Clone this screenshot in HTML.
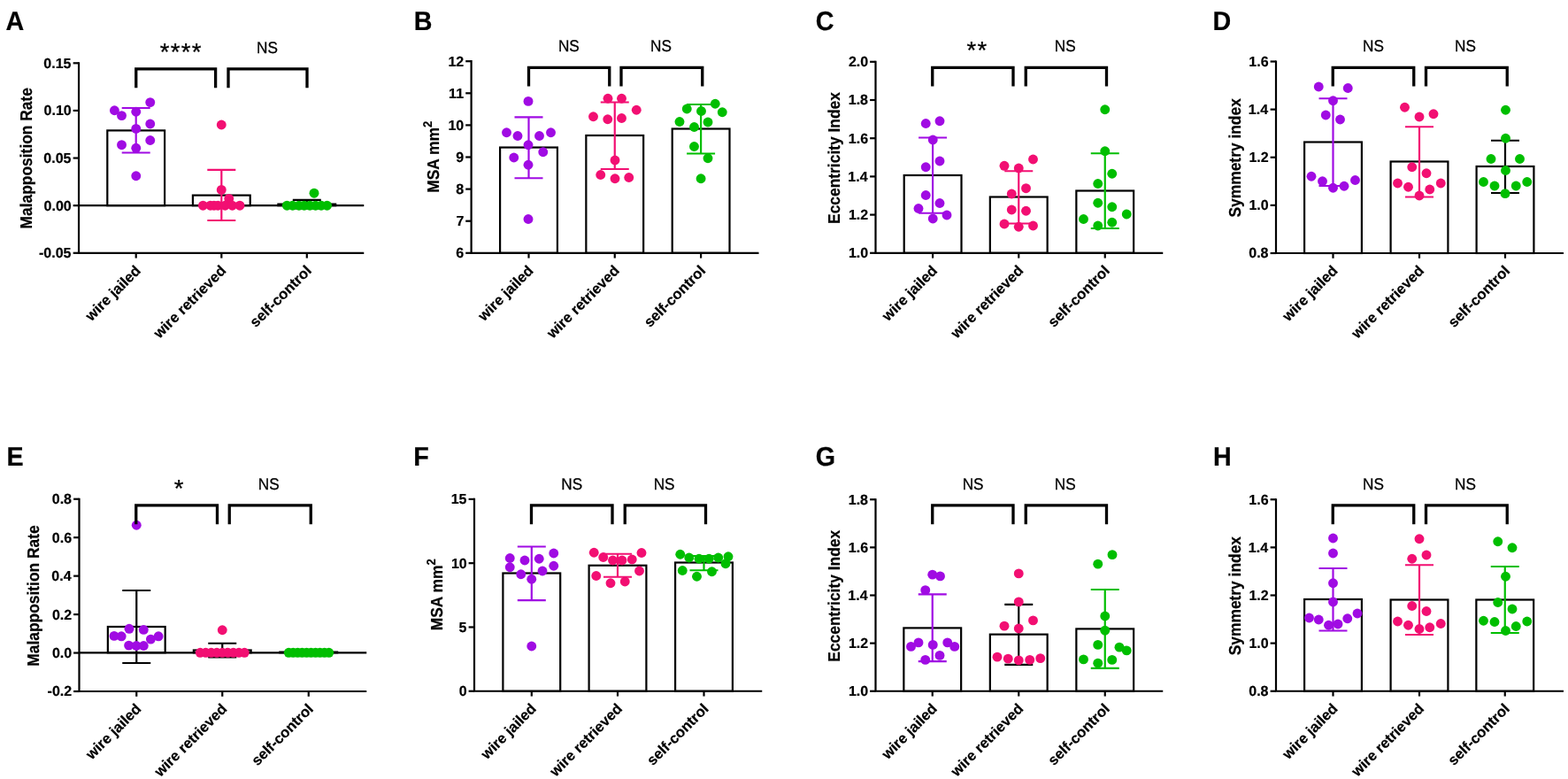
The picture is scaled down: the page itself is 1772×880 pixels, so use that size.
<!DOCTYPE html>
<html><head><meta charset="utf-8"><title>Figure</title>
<style>
html,body{margin:0;padding:0;background:#fff;}
body{width:1772px;height:880px;overflow:hidden;}
svg{display:block;}
text{text-rendering:geometricPrecision;}
.b{font-family:'Liberation Sans', Arial, Helvetica, sans-serif;font-weight:700;fill:#000;stroke:#000;stroke-width:0.2px;}
.r{font-family:'Liberation Sans', Arial, Helvetica, sans-serif;font-weight:400;fill:#000;stroke:#000;stroke-width:0.3px;}
</style></head><body>
<svg width="1772" height="880" viewBox="0 0 1772 880">
<rect width="1772" height="880" fill="#fff"/>
<rect x="121.3" y="147.4" width="64.8" height="84.8" fill="#fff" stroke="#000" stroke-width="2.2"/>
<rect x="217.9" y="220.6" width="64.8" height="11.6" fill="#fff" stroke="#000" stroke-width="2.2"/>
<rect x="314.4" y="230.6" width="64.8" height="1.6" fill="#fff" stroke="#000" stroke-width="2.2"/>
<line x1="89.05" y1="232.2" x2="411.25" y2="232.2" stroke="#000" stroke-width="2.2"/>
<path d="M137.7 122H169.7M153.7 122V172.5M137.7 172.5H169.7" stroke="#A00BE3" stroke-width="2.2" fill="none"/>
<path d="M234.3 191.9H266.3M250.3 191.9V249M234.3 249H266.3" stroke="#F20F72" stroke-width="2.2" fill="none"/>
<path d="M330.8 225.8H362.8M346.8 225.8V235.4M330.8 235.4H362.8" stroke="#000000" stroke-width="2.2" fill="none"/>
<g fill="#A00BE3"><circle cx="129.4" cy="124.75" r="5.45"/><circle cx="137.5" cy="130.6" r="5.45"/><circle cx="153.75" cy="126.25" r="5.45"/><circle cx="169.75" cy="115.6" r="5.45"/><circle cx="169.75" cy="140" r="5.45"/><circle cx="153.75" cy="145.4" r="5.45"/><circle cx="137.5" cy="163.7" r="5.45"/><circle cx="169.75" cy="158.5" r="5.45"/><circle cx="153.75" cy="167.3" r="5.45"/><circle cx="153.75" cy="198.75" r="5.45"/></g>
<g fill="#F20F72"><circle cx="250.25" cy="141" r="5.45"/><circle cx="250.25" cy="214.4" r="5.45"/><circle cx="258.75" cy="224.4" r="5.45"/><circle cx="229.4" cy="232.2" r="5.45"/><circle cx="237.75" cy="232.2" r="5.45"/><circle cx="241.9" cy="232.2" r="5.45"/><circle cx="246.25" cy="232.2" r="5.45"/><circle cx="254.4" cy="232.2" r="5.45"/><circle cx="262.5" cy="232.2" r="5.45"/><circle cx="271" cy="232.2" r="5.45"/></g>
<g fill="#00BE00"><circle cx="355" cy="218.2" r="5.45"/><circle cx="324.3" cy="232.2" r="5.45"/><circle cx="330.7" cy="232.2" r="5.45"/><circle cx="337.9" cy="232.2" r="5.45"/><circle cx="343.8" cy="232.2" r="5.45"/><circle cx="350.2" cy="232.2" r="5.45"/><circle cx="356.6" cy="232.2" r="5.45"/><circle cx="363" cy="232.2" r="5.45"/><circle cx="369.6" cy="232.2" r="5.45"/></g>
<path d="M89.05 70.2V285.8H411.25" stroke="#000" stroke-width="2.2" fill="none" stroke-linejoin="miter"/>
<line x1="82.65" y1="71.3" x2="89.05" y2="71.3" stroke="#000" stroke-width="2.2"/>
<text x="49.33" y="76.72" class="b" font-size="16.0">0.15</text>
<line x1="82.65" y1="124.92" x2="89.05" y2="124.92" stroke="#000" stroke-width="2.2"/>
<text x="49.57" y="130.34" class="b" font-size="16.0">0.10</text>
<line x1="82.65" y1="178.55" x2="89.05" y2="178.55" stroke="#000" stroke-width="2.2"/>
<text x="49.33" y="183.97" class="b" font-size="16.0">0.05</text>
<line x1="82.65" y1="232.18" x2="89.05" y2="232.18" stroke="#000" stroke-width="2.2"/>
<text x="49.57" y="237.6" class="b" font-size="16.0">0.00</text>
<line x1="82.65" y1="285.8" x2="89.05" y2="285.8" stroke="#000" stroke-width="2.2"/>
<text x="43.97" y="291.22" class="b" font-size="16.0">-0.05</text>
<line x1="153.7" y1="285.8" x2="153.7" y2="291.6" stroke="#000" stroke-width="2.2"/>
<text transform="translate(159.9 306.7) rotate(-45)" text-anchor="end" class="b" font-size="16.6">wire jailed</text>
<line x1="250.3" y1="285.8" x2="250.3" y2="291.6" stroke="#000" stroke-width="2.2"/>
<text transform="translate(256.5 306.7) rotate(-45)" text-anchor="end" class="b" font-size="16.6">wire retrieved</text>
<line x1="346.8" y1="285.8" x2="346.8" y2="291.6" stroke="#000" stroke-width="2.2"/>
<text transform="translate(353 306.7) rotate(-45)" text-anchor="end" class="b" font-size="16.6">self-control</text>
<path d="M153.75 99.3V77.9H243.6V99.3" stroke="#000" stroke-width="3.3" fill="none"/>
<path d="M258 99.3V77.9H347V99.3" stroke="#000" stroke-width="3.3" fill="none"/>
<text x="180.77" y="67.66" class="r" font-size="27.5" letter-spacing="1.3">****</text>
<text transform="translate(302.25 59.7) scale(0.94 1)" x="-12.99" y="0" class="r" font-size="18.3">NS</text>
<text transform="translate(6.48 34.4) scale(0.95 1)" x="0" y="0" class="b" font-size="30.2">A</text>
<text transform="translate(35.8 0) rotate(-90) scale(1 1.08)" x="-258.43" y="0" class="b" font-size="17.4">Malapposition Rate</text>
<rect x="565.1" y="166.55" width="64.8" height="119.25" fill="#fff" stroke="#000" stroke-width="2.2"/>
<rect x="662.35" y="153" width="64.8" height="132.8" fill="#fff" stroke="#000" stroke-width="2.2"/>
<rect x="759.7" y="145.5" width="64.8" height="140.3" fill="#fff" stroke="#000" stroke-width="2.2"/>
<path d="M581.5 132.4H613.5M597.5 132.4V201.25M581.5 201.25H613.5" stroke="#A00BE3" stroke-width="2.2" fill="none"/>
<path d="M678.75 115.5H710.75M694.75 115.5V191M678.75 191H710.75" stroke="#F20F72" stroke-width="2.2" fill="none"/>
<path d="M776.1 118H808.1M792.1 118V173.5M776.1 173.5H808.1" stroke="#00BE00" stroke-width="2.2" fill="none"/>
<g fill="#A00BE3"><circle cx="597" cy="114.4" r="5.45"/><circle cx="572.5" cy="149.75" r="5.45"/><circle cx="585" cy="153.5" r="5.45"/><circle cx="609.5" cy="153.5" r="5.45"/><circle cx="622.5" cy="149.75" r="5.45"/><circle cx="597" cy="163.75" r="5.45"/><circle cx="613.75" cy="171.75" r="5.45"/><circle cx="580.75" cy="178" r="5.45"/><circle cx="597" cy="186.25" r="5.45"/><circle cx="597" cy="247.5" r="5.45"/></g>
<g fill="#F20F72"><circle cx="687" cy="111.25" r="5.45"/><circle cx="702.5" cy="111.25" r="5.45"/><circle cx="719.25" cy="124.25" r="5.45"/><circle cx="670.5" cy="131.75" r="5.45"/><circle cx="686.75" cy="134.75" r="5.45"/><circle cx="702.5" cy="133.5" r="5.45"/><circle cx="695" cy="181" r="5.45"/><circle cx="678.75" cy="197.5" r="5.45"/><circle cx="695" cy="201.75" r="5.45"/><circle cx="710.75" cy="200.5" r="5.45"/></g>
<g fill="#00BE00"><circle cx="808.25" cy="117.25" r="5.45"/><circle cx="776.25" cy="123" r="5.45"/><circle cx="792.5" cy="125.5" r="5.45"/><circle cx="816.25" cy="126.75" r="5.45"/><circle cx="768" cy="137.5" r="5.45"/><circle cx="800" cy="138" r="5.45"/><circle cx="784.5" cy="143.5" r="5.45"/><circle cx="784.5" cy="165.5" r="5.45"/><circle cx="800" cy="178.75" r="5.45"/><circle cx="792.1" cy="201.75" r="5.45"/></g>
<path d="M532.6 68.1V285.8H857.5" stroke="#000" stroke-width="2.2" fill="none" stroke-linejoin="miter"/>
<line x1="526.2" y1="69.2" x2="532.6" y2="69.2" stroke="#000" stroke-width="2.2"/>
<text x="506.48" y="74.7" class="b" font-size="16.0">12</text>
<line x1="526.2" y1="105.3" x2="532.6" y2="105.3" stroke="#000" stroke-width="2.2"/>
<text x="507.12" y="110.72" class="b" font-size="16.0">11</text>
<line x1="526.2" y1="141.4" x2="532.6" y2="141.4" stroke="#000" stroke-width="2.2"/>
<text x="506.48" y="146.82" class="b" font-size="16.0">10</text>
<line x1="526.2" y1="177.5" x2="532.6" y2="177.5" stroke="#000" stroke-width="2.2"/>
<text x="515.28" y="182.92" class="b" font-size="16.0">9</text>
<line x1="526.2" y1="213.6" x2="532.6" y2="213.6" stroke="#000" stroke-width="2.2"/>
<text x="515.2" y="219.02" class="b" font-size="16.0">8</text>
<line x1="526.2" y1="249.7" x2="532.6" y2="249.7" stroke="#000" stroke-width="2.2"/>
<text x="515.44" y="255.12" class="b" font-size="16.0">7</text>
<line x1="526.2" y1="285.8" x2="532.6" y2="285.8" stroke="#000" stroke-width="2.2"/>
<text x="515.28" y="291.22" class="b" font-size="16.0">6</text>
<line x1="597.5" y1="285.8" x2="597.5" y2="291.6" stroke="#000" stroke-width="2.2"/>
<text transform="translate(603.7 306.7) rotate(-45)" text-anchor="end" class="b" font-size="16.6">wire jailed</text>
<line x1="694.75" y1="285.8" x2="694.75" y2="291.6" stroke="#000" stroke-width="2.2"/>
<text transform="translate(700.95 306.7) rotate(-45)" text-anchor="end" class="b" font-size="16.6">wire retrieved</text>
<line x1="792.1" y1="285.8" x2="792.1" y2="291.6" stroke="#000" stroke-width="2.2"/>
<text transform="translate(798.3 306.7) rotate(-45)" text-anchor="end" class="b" font-size="16.6">self-control</text>
<path d="M597.5 97.6V76.4H688.75V97.6" stroke="#000" stroke-width="3.3" fill="none"/>
<path d="M702 97.6V76.4H793.75V97.6" stroke="#000" stroke-width="3.3" fill="none"/>
<text transform="translate(643.1 57.6) scale(0.94 1)" x="-12.99" y="0" class="r" font-size="18.3">NS</text>
<text transform="translate(747.3 57.6) scale(0.94 1)" x="-12.99" y="0" class="r" font-size="18.3">NS</text>
<text transform="translate(467.64 34.4) scale(0.95 1)" x="0" y="0" class="b" font-size="30.2">B</text>
<text transform="translate(496 0) rotate(-90) scale(1 1.08)" x="-217.83" y="0" class="b" font-size="17.4">MSA mm<tspan font-size="13" dy="-7.6">2</tspan></text>
<rect x="1021.7" y="198" width="64.8" height="87.8" fill="#fff" stroke="#000" stroke-width="2.2"/>
<rect x="1118.85" y="222.5" width="64.8" height="63.3" fill="#fff" stroke="#000" stroke-width="2.2"/>
<rect x="1216.35" y="215.5" width="64.8" height="70.3" fill="#fff" stroke="#000" stroke-width="2.2"/>
<path d="M1038.1 155.5H1070.1M1054.1 155.5V240.75M1038.1 240.75H1070.1" stroke="#A00BE3" stroke-width="2.2" fill="none"/>
<path d="M1135.25 193.25H1167.25M1151.25 193.25V252.5M1135.25 252.5H1167.25" stroke="#F20F72" stroke-width="2.2" fill="none"/>
<path d="M1232.75 173.25H1264.75M1248.75 173.25V258M1232.75 258H1264.75" stroke="#00BE00" stroke-width="2.2" fill="none"/>
<g fill="#A00BE3"><circle cx="1046.25" cy="139.5" r="5.45"/><circle cx="1062" cy="136.75" r="5.45"/><circle cx="1054.25" cy="158" r="5.45"/><circle cx="1062" cy="182" r="5.45"/><circle cx="1046.25" cy="188.75" r="5.45"/><circle cx="1046.25" cy="220.5" r="5.45"/><circle cx="1062" cy="229.5" r="5.45"/><circle cx="1038" cy="235.5" r="5.45"/><circle cx="1070" cy="243" r="5.45"/><circle cx="1054.25" cy="247" r="5.45"/></g>
<g fill="#F20F72"><circle cx="1135" cy="187.3" r="5.45"/><circle cx="1151.25" cy="190" r="5.45"/><circle cx="1167.5" cy="180" r="5.45"/><circle cx="1159.5" cy="212.7" r="5.45"/><circle cx="1143.25" cy="219" r="5.45"/><circle cx="1143.25" cy="237" r="5.45"/><circle cx="1159.5" cy="238.25" r="5.45"/><circle cx="1135" cy="253" r="5.45"/><circle cx="1151.25" cy="256.25" r="5.45"/><circle cx="1167.5" cy="255" r="5.45"/></g>
<g fill="#00BE00"><circle cx="1248.75" cy="123.75" r="5.45"/><circle cx="1248.75" cy="170.75" r="5.45"/><circle cx="1256.75" cy="196.25" r="5.45"/><circle cx="1240.75" cy="207.5" r="5.45"/><circle cx="1240.75" cy="229.25" r="5.45"/><circle cx="1256.75" cy="233.75" r="5.45"/><circle cx="1273.25" cy="242" r="5.45"/><circle cx="1224.5" cy="247.5" r="5.45"/><circle cx="1256.75" cy="251.25" r="5.45"/><circle cx="1240.75" cy="255" r="5.45"/></g>
<path d="M989.5 68.7V285.8H1314.25" stroke="#000" stroke-width="2.2" fill="none" stroke-linejoin="miter"/>
<line x1="983.1" y1="69.8" x2="989.5" y2="69.8" stroke="#000" stroke-width="2.2"/>
<text x="958.9" y="75.22" class="b" font-size="16.0">2.0</text>
<line x1="983.1" y1="113" x2="989.5" y2="113" stroke="#000" stroke-width="2.2"/>
<text x="958.74" y="118.42" class="b" font-size="16.0">1.8</text>
<line x1="983.1" y1="156.2" x2="989.5" y2="156.2" stroke="#000" stroke-width="2.2"/>
<text x="958.82" y="161.62" class="b" font-size="16.0">1.6</text>
<line x1="983.1" y1="199.4" x2="989.5" y2="199.4" stroke="#000" stroke-width="2.2"/>
<text x="958.34" y="204.82" class="b" font-size="16.0">1.4</text>
<line x1="983.1" y1="242.6" x2="989.5" y2="242.6" stroke="#000" stroke-width="2.2"/>
<text x="958.9" y="248.1" class="b" font-size="16.0">1.2</text>
<line x1="983.1" y1="285.8" x2="989.5" y2="285.8" stroke="#000" stroke-width="2.2"/>
<text x="958.9" y="291.22" class="b" font-size="16.0">1.0</text>
<line x1="1054.1" y1="285.8" x2="1054.1" y2="291.6" stroke="#000" stroke-width="2.2"/>
<text transform="translate(1060.3 306.7) rotate(-45)" text-anchor="end" class="b" font-size="16.6">wire jailed</text>
<line x1="1151.25" y1="285.8" x2="1151.25" y2="291.6" stroke="#000" stroke-width="2.2"/>
<text transform="translate(1157.45 306.7) rotate(-45)" text-anchor="end" class="b" font-size="16.6">wire retrieved</text>
<line x1="1248.75" y1="285.8" x2="1248.75" y2="291.6" stroke="#000" stroke-width="2.2"/>
<text transform="translate(1254.95 306.7) rotate(-45)" text-anchor="end" class="b" font-size="16.6">self-control</text>
<path d="M1053.75 97.6V76.3H1145V97.6" stroke="#000" stroke-width="3.3" fill="none"/>
<path d="M1159.25 97.6V76.3H1250.5V97.6" stroke="#000" stroke-width="3.3" fill="none"/>
<text x="1092.42" y="65.96" class="r" font-size="27.5" letter-spacing="1.3">**</text>
<text transform="translate(1204 57.6) scale(0.94 1)" x="-12.99" y="0" class="r" font-size="18.3">NS</text>
<text transform="translate(921.65 34.4) scale(0.95 1)" x="0" y="0" class="b" font-size="30.2">C</text>
<text transform="translate(948.7 0) rotate(-90) scale(1 1.08)" x="-252.93" y="0" class="b" font-size="17.4">Eccentricity Index</text>
<rect x="1474.1" y="160.5" width="64.8" height="125.5" fill="#fff" stroke="#000" stroke-width="2.2"/>
<rect x="1571.6" y="182.5" width="64.8" height="103.5" fill="#fff" stroke="#000" stroke-width="2.2"/>
<rect x="1668.6" y="188" width="64.8" height="98" fill="#fff" stroke="#000" stroke-width="2.2"/>
<path d="M1490.5 111.25H1522.5M1506.5 111.25V210M1490.5 210H1522.5" stroke="#A00BE3" stroke-width="2.2" fill="none"/>
<path d="M1588 143.25H1620M1604 143.25V222.5M1588 222.5H1620" stroke="#F20F72" stroke-width="2.2" fill="none"/>
<path d="M1685 158.75H1717M1701 158.75V218M1685 218H1717" stroke="#000000" stroke-width="2.2" fill="none"/>
<g fill="#A00BE3"><circle cx="1490.25" cy="98" r="5.45"/><circle cx="1523.25" cy="99.5" r="5.45"/><circle cx="1506.5" cy="113.75" r="5.45"/><circle cx="1498.25" cy="130" r="5.45"/><circle cx="1514.5" cy="135" r="5.45"/><circle cx="1482" cy="199.25" r="5.45"/><circle cx="1494.5" cy="204.75" r="5.45"/><circle cx="1531.5" cy="203.5" r="5.45"/><circle cx="1506.5" cy="212.25" r="5.45"/><circle cx="1519" cy="210.25" r="5.45"/></g>
<g fill="#F20F72"><circle cx="1587.5" cy="121.25" r="5.45"/><circle cx="1604" cy="132" r="5.45"/><circle cx="1620" cy="128.75" r="5.45"/><circle cx="1595.75" cy="188.75" r="5.45"/><circle cx="1612" cy="195.75" r="5.45"/><circle cx="1579.5" cy="207" r="5.45"/><circle cx="1591.5" cy="211.25" r="5.45"/><circle cx="1628.25" cy="207" r="5.45"/><circle cx="1615.75" cy="214" r="5.45"/><circle cx="1604" cy="221" r="5.45"/></g>
<g fill="#00BE00"><circle cx="1701.5" cy="124.25" r="5.45"/><circle cx="1701.5" cy="156.25" r="5.45"/><circle cx="1685" cy="179.5" r="5.45"/><circle cx="1717.5" cy="179.5" r="5.45"/><circle cx="1701.5" cy="192.5" r="5.45"/><circle cx="1676.5" cy="205.5" r="5.45"/><circle cx="1725.75" cy="205.5" r="5.45"/><circle cx="1689" cy="210" r="5.45"/><circle cx="1713.25" cy="210" r="5.45"/><circle cx="1701" cy="218.6" r="5.45"/></g>
<path d="M1442 68.4V286H1767" stroke="#000" stroke-width="2.2" fill="none" stroke-linejoin="miter"/>
<line x1="1435.6" y1="69.5" x2="1442" y2="69.5" stroke="#000" stroke-width="2.2"/>
<text x="1411.32" y="74.92" class="b" font-size="16.0">1.6</text>
<line x1="1435.6" y1="123.62" x2="1442" y2="123.62" stroke="#000" stroke-width="2.2"/>
<text x="1410.84" y="129.05" class="b" font-size="16.0">1.4</text>
<line x1="1435.6" y1="177.75" x2="1442" y2="177.75" stroke="#000" stroke-width="2.2"/>
<text x="1411.4" y="183.25" class="b" font-size="16.0">1.2</text>
<line x1="1435.6" y1="231.88" x2="1442" y2="231.88" stroke="#000" stroke-width="2.2"/>
<text x="1411.4" y="237.3" class="b" font-size="16.0">1.0</text>
<line x1="1435.6" y1="286" x2="1442" y2="286" stroke="#000" stroke-width="2.2"/>
<text x="1411.24" y="291.42" class="b" font-size="16.0">0.8</text>
<line x1="1506.5" y1="286" x2="1506.5" y2="291.8" stroke="#000" stroke-width="2.2"/>
<text transform="translate(1512.7 306.9) rotate(-45)" text-anchor="end" class="b" font-size="16.6">wire jailed</text>
<line x1="1604" y1="286" x2="1604" y2="291.8" stroke="#000" stroke-width="2.2"/>
<text transform="translate(1610.2 306.9) rotate(-45)" text-anchor="end" class="b" font-size="16.6">wire retrieved</text>
<line x1="1701" y1="286" x2="1701" y2="291.8" stroke="#000" stroke-width="2.2"/>
<text transform="translate(1707.2 306.9) rotate(-45)" text-anchor="end" class="b" font-size="16.6">self-control</text>
<path d="M1506.25 97.6V76.3H1597.75V97.6" stroke="#000" stroke-width="3.3" fill="none"/>
<path d="M1611.5 97.6V76.3H1703.25V97.6" stroke="#000" stroke-width="3.3" fill="none"/>
<text transform="translate(1552.3 57.6) scale(0.94 1)" x="-12.99" y="0" class="r" font-size="18.3">NS</text>
<text transform="translate(1656.3 57.6) scale(0.94 1)" x="-12.99" y="0" class="r" font-size="18.3">NS</text>
<text transform="translate(1370.44 34.4) scale(0.95 1)" x="0" y="0" class="b" font-size="30.2">D</text>
<text transform="translate(1401.8 0) rotate(-90) scale(1 1.08)" x="-245.52" y="0" class="b" font-size="17.4">Symmetry index</text>
<rect x="121.85" y="708" width="64.8" height="29.3" fill="#fff" stroke="#000" stroke-width="2.2"/>
<rect x="218.85" y="734.5" width="64.8" height="2.8" fill="#fff" stroke="#000" stroke-width="2.2"/>
<rect x="316.35" y="736.6" width="64.8" height="0.7" fill="#fff" stroke="#000" stroke-width="2.2"/>
<line x1="89.5" y1="737.3" x2="414.25" y2="737.3" stroke="#000" stroke-width="2.2"/>
<path d="M138.25 667H170.25M154.25 667V749M138.25 749H170.25" stroke="#000000" stroke-width="2.2" fill="none"/>
<path d="M235.25 726.75H267.25M251.25 726.75V742.5M235.25 742.5H267.25" stroke="#000000" stroke-width="2.2" fill="none"/>
<path d="M332.75 737.3H364.75M348.75 737.3V737.3M332.75 737.3H364.75" stroke="#000000" stroke-width="2.2" fill="none"/>
<g fill="#A00BE3"><circle cx="154.25" cy="593.25" r="5.45"/><circle cx="129" cy="718.4" r="5.45"/><circle cx="137.2" cy="718.8" r="5.45"/><circle cx="146" cy="710.3" r="5.45"/><circle cx="162.3" cy="711.4" r="5.45"/><circle cx="170.4" cy="722.1" r="5.45"/><circle cx="179.1" cy="718.8" r="5.45"/><circle cx="145.6" cy="729.1" r="5.45"/><circle cx="154.1" cy="729.5" r="5.45"/><circle cx="162.3" cy="729.5" r="5.45"/></g>
<g fill="#F20F72"><circle cx="251.25" cy="711.75" r="5.45"/><circle cx="226.25" cy="737.3" r="5.45"/><circle cx="232.5" cy="737.3" r="5.45"/><circle cx="238.75" cy="737.3" r="5.45"/><circle cx="245" cy="737.3" r="5.45"/><circle cx="251.25" cy="737.3" r="5.45"/><circle cx="257.5" cy="737.3" r="5.45"/><circle cx="263.75" cy="737.3" r="5.45"/><circle cx="270" cy="737.3" r="5.45"/><circle cx="276.25" cy="737.3" r="5.45"/></g>
<g fill="#00BE00"><circle cx="326.25" cy="737.3" r="5.45"/><circle cx="331.3" cy="737.3" r="5.45"/><circle cx="336.4" cy="737.3" r="5.45"/><circle cx="341.4" cy="737.3" r="5.45"/><circle cx="346.5" cy="737.3" r="5.45"/><circle cx="351.5" cy="737.3" r="5.45"/><circle cx="356.6" cy="737.3" r="5.45"/><circle cx="361.6" cy="737.3" r="5.45"/><circle cx="366.7" cy="737.3" r="5.45"/><circle cx="371.75" cy="737.3" r="5.45"/></g>
<path d="M89.5 562.65V781H414.25" stroke="#000" stroke-width="2.2" fill="none" stroke-linejoin="miter"/>
<line x1="83.1" y1="563.75" x2="89.5" y2="563.75" stroke="#000" stroke-width="2.2"/>
<text x="58.74" y="569.17" class="b" font-size="16.0">0.8</text>
<line x1="83.1" y1="607.2" x2="89.5" y2="607.2" stroke="#000" stroke-width="2.2"/>
<text x="58.82" y="612.62" class="b" font-size="16.0">0.6</text>
<line x1="83.1" y1="650.65" x2="89.5" y2="650.65" stroke="#000" stroke-width="2.2"/>
<text x="58.34" y="656.07" class="b" font-size="16.0">0.4</text>
<line x1="83.1" y1="694.1" x2="89.5" y2="694.1" stroke="#000" stroke-width="2.2"/>
<text x="58.9" y="699.52" class="b" font-size="16.0">0.2</text>
<line x1="83.1" y1="737.55" x2="89.5" y2="737.55" stroke="#000" stroke-width="2.2"/>
<text x="58.9" y="742.97" class="b" font-size="16.0">0.0</text>
<line x1="83.1" y1="781" x2="89.5" y2="781" stroke="#000" stroke-width="2.2"/>
<text x="53.62" y="786.42" class="b" font-size="16.0">-0.2</text>
<line x1="154.25" y1="781" x2="154.25" y2="786.8" stroke="#000" stroke-width="2.2"/>
<text transform="translate(160.45 801.9) rotate(-45)" text-anchor="end" class="b" font-size="16.6">wire jailed</text>
<line x1="251.25" y1="781" x2="251.25" y2="786.8" stroke="#000" stroke-width="2.2"/>
<text transform="translate(257.45 801.9) rotate(-45)" text-anchor="end" class="b" font-size="16.6">wire retrieved</text>
<line x1="348.75" y1="781" x2="348.75" y2="786.8" stroke="#000" stroke-width="2.2"/>
<text transform="translate(354.95 801.9) rotate(-45)" text-anchor="end" class="b" font-size="16.6">self-control</text>
<path d="M153.75 592.2V570.9H245.5V592.2" stroke="#000" stroke-width="3.3" fill="none"/>
<path d="M259.25 592.2V570.9H351.25V592.2" stroke="#000" stroke-width="3.3" fill="none"/>
<text x="196.64" y="560.56" class="r" font-size="27.5" letter-spacing="1.3">*</text>
<text transform="translate(304 552.6) scale(0.94 1)" x="-12.99" y="0" class="r" font-size="18.3">NS</text>
<text transform="translate(7.54 526.3) scale(0.95 1)" x="0" y="0" class="b" font-size="30.2">E</text>
<text transform="translate(44 0) rotate(-90) scale(1 1.08)" x="-752.73" y="0" class="b" font-size="17.4">Malapposition Rate</text>
<rect x="568.4" y="647.5" width="64.8" height="133.25" fill="#fff" stroke="#000" stroke-width="2.2"/>
<rect x="665.6" y="638.75" width="64.8" height="142" fill="#fff" stroke="#000" stroke-width="2.2"/>
<rect x="763.1" y="635.5" width="64.8" height="145.25" fill="#fff" stroke="#000" stroke-width="2.2"/>
<path d="M584.8 617.5H616.8M600.8 617.5V678.1M584.8 678.1H616.8" stroke="#A00BE3" stroke-width="2.2" fill="none"/>
<path d="M682 625.75H714M698 625.75V651.75M682 651.75H714" stroke="#F20F72" stroke-width="2.2" fill="none"/>
<path d="M779.5 628H811.5M795.5 628V644.25M779.5 644.25H811.5" stroke="#00BE00" stroke-width="2.2" fill="none"/>
<g fill="#A00BE3"><circle cx="625.75" cy="625" r="5.45"/><circle cx="576.25" cy="630.5" r="5.45"/><circle cx="593" cy="633" r="5.45"/><circle cx="609.25" cy="631.25" r="5.45"/><circle cx="576.25" cy="640.75" r="5.45"/><circle cx="625.75" cy="639.25" r="5.45"/><circle cx="613" cy="645" r="5.45"/><circle cx="588.75" cy="648.75" r="5.45"/><circle cx="600.75" cy="654.25" r="5.45"/><circle cx="600.75" cy="730" r="5.45"/></g>
<g fill="#F20F72"><circle cx="671.25" cy="624.25" r="5.45"/><circle cx="725" cy="624.5" r="5.45"/><circle cx="681.75" cy="629.5" r="5.45"/><circle cx="692.5" cy="633" r="5.45"/><circle cx="703" cy="633" r="5.45"/><circle cx="714.25" cy="632" r="5.45"/><circle cx="673.75" cy="650.5" r="5.45"/><circle cx="722.5" cy="645" r="5.45"/><circle cx="690" cy="658.75" r="5.45"/><circle cx="706.25" cy="657" r="5.45"/></g>
<g fill="#00BE00"><circle cx="768.75" cy="626.25" r="5.45"/><circle cx="823" cy="628.75" r="5.45"/><circle cx="778.75" cy="630" r="5.45"/><circle cx="790" cy="631.25" r="5.45"/><circle cx="801.25" cy="631.25" r="5.45"/><circle cx="811.75" cy="630" r="5.45"/><circle cx="820" cy="636.75" r="5.45"/><circle cx="771.25" cy="644.5" r="5.45"/><circle cx="804.5" cy="645.75" r="5.45"/><circle cx="787.5" cy="651.25" r="5.45"/></g>
<path d="M536 562.8V780.75H861.25" stroke="#000" stroke-width="2.2" fill="none" stroke-linejoin="miter"/>
<line x1="529.6" y1="563.9" x2="536" y2="563.9" stroke="#000" stroke-width="2.2"/>
<text x="509.64" y="569.24" class="b" font-size="16.0">15</text>
<line x1="529.6" y1="636.18" x2="536" y2="636.18" stroke="#000" stroke-width="2.2"/>
<text x="509.88" y="641.6" class="b" font-size="16.0">10</text>
<line x1="529.6" y1="708.47" x2="536" y2="708.47" stroke="#000" stroke-width="2.2"/>
<text x="518.52" y="713.81" class="b" font-size="16.0">5</text>
<line x1="529.6" y1="780.75" x2="536" y2="780.75" stroke="#000" stroke-width="2.2"/>
<text x="518.76" y="786.17" class="b" font-size="16.0">0</text>
<line x1="600.8" y1="780.75" x2="600.8" y2="786.55" stroke="#000" stroke-width="2.2"/>
<text transform="translate(607 801.65) rotate(-45)" text-anchor="end" class="b" font-size="16.6">wire jailed</text>
<line x1="698" y1="780.75" x2="698" y2="786.55" stroke="#000" stroke-width="2.2"/>
<text transform="translate(704.2 801.65) rotate(-45)" text-anchor="end" class="b" font-size="16.6">wire retrieved</text>
<line x1="795.5" y1="780.75" x2="795.5" y2="786.55" stroke="#000" stroke-width="2.2"/>
<text transform="translate(801.7 801.65) rotate(-45)" text-anchor="end" class="b" font-size="16.6">self-control</text>
<path d="M600.5 592.2V570.9H692V592.2" stroke="#000" stroke-width="3.3" fill="none"/>
<path d="M706.25 592.2V570.9H797.5V592.2" stroke="#000" stroke-width="3.3" fill="none"/>
<text transform="translate(646.5 552.6) scale(0.94 1)" x="-12.99" y="0" class="r" font-size="18.3">NS</text>
<text transform="translate(750.9 552.6) scale(0.94 1)" x="-12.99" y="0" class="r" font-size="18.3">NS</text>
<text transform="translate(467.14 526.3) scale(0.95 1)" x="0" y="0" class="b" font-size="30.2">F</text>
<text transform="translate(500.4 0) rotate(-90) scale(1 1.08)" x="-712.33" y="0" class="b" font-size="17.4">MSA mm<tspan font-size="13" dy="-7.6">2</tspan></text>
<rect x="1021.35" y="709.4" width="64.8" height="71.35" fill="#fff" stroke="#000" stroke-width="2.2"/>
<rect x="1118.85" y="716.65" width="64.8" height="64.1" fill="#fff" stroke="#000" stroke-width="2.2"/>
<rect x="1216.35" y="710.4" width="64.8" height="70.35" fill="#fff" stroke="#000" stroke-width="2.2"/>
<path d="M1037.75 671.4H1069.75M1053.75 671.4V747.15M1037.75 747.15H1069.75" stroke="#A00BE3" stroke-width="2.2" fill="none"/>
<path d="M1135.25 682.9H1167.25M1151.25 682.9V750.9M1135.25 750.9H1167.25" stroke="#000000" stroke-width="2.2" fill="none"/>
<path d="M1232.75 666H1264.75M1248.75 666V754.9M1232.75 754.9H1264.75" stroke="#00BE00" stroke-width="2.2" fill="none"/>
<g fill="#A00BE3"><circle cx="1053.75" cy="649.15" r="5.45"/><circle cx="1062.5" cy="650.9" r="5.45"/><circle cx="1045.75" cy="666.65" r="5.45"/><circle cx="1038" cy="725.9" r="5.45"/><circle cx="1029.5" cy="730.4" r="5.45"/><circle cx="1054.25" cy="728.4" r="5.45"/><circle cx="1070.75" cy="725.9" r="5.45"/><circle cx="1078.75" cy="730.4" r="5.45"/><circle cx="1062" cy="740.4" r="5.45"/><circle cx="1045.75" cy="745.4" r="5.45"/></g>
<g fill="#F20F72"><circle cx="1151.25" cy="647.9" r="5.45"/><circle cx="1151.25" cy="679.9" r="5.45"/><circle cx="1167.5" cy="700.9" r="5.45"/><circle cx="1135" cy="707.15" r="5.45"/><circle cx="1151.25" cy="710" r="5.45"/><circle cx="1127" cy="742.15" r="5.45"/><circle cx="1139.25" cy="744.15" r="5.45"/><circle cx="1151.25" cy="745.9" r="5.45"/><circle cx="1163.75" cy="745.4" r="5.45"/><circle cx="1175.75" cy="743.65" r="5.45"/></g>
<g fill="#00BE00"><circle cx="1257" cy="626.65" r="5.45"/><circle cx="1240.75" cy="637.15" r="5.45"/><circle cx="1248.75" cy="696" r="5.45"/><circle cx="1248.75" cy="712.2" r="5.45"/><circle cx="1240.75" cy="728.4" r="5.45"/><circle cx="1265" cy="731.15" r="5.45"/><circle cx="1273.25" cy="734.9" r="5.45"/><circle cx="1224.5" cy="744.9" r="5.45"/><circle cx="1256.75" cy="745.4" r="5.45"/><circle cx="1240.75" cy="749.15" r="5.45"/></g>
<path d="M989.5 563.15V780.75H1314.25" stroke="#000" stroke-width="2.2" fill="none" stroke-linejoin="miter"/>
<line x1="983.1" y1="564.25" x2="989.5" y2="564.25" stroke="#000" stroke-width="2.2"/>
<text x="958.74" y="569.67" class="b" font-size="16.0">1.8</text>
<line x1="983.1" y1="618.38" x2="989.5" y2="618.38" stroke="#000" stroke-width="2.2"/>
<text x="958.82" y="623.79" class="b" font-size="16.0">1.6</text>
<line x1="983.1" y1="672.5" x2="989.5" y2="672.5" stroke="#000" stroke-width="2.2"/>
<text x="958.34" y="677.92" class="b" font-size="16.0">1.4</text>
<line x1="983.1" y1="726.62" x2="989.5" y2="726.62" stroke="#000" stroke-width="2.2"/>
<text x="958.9" y="732.12" class="b" font-size="16.0">1.2</text>
<line x1="983.1" y1="780.75" x2="989.5" y2="780.75" stroke="#000" stroke-width="2.2"/>
<text x="958.9" y="786.17" class="b" font-size="16.0">1.0</text>
<line x1="1053.75" y1="780.75" x2="1053.75" y2="786.55" stroke="#000" stroke-width="2.2"/>
<text transform="translate(1059.95 801.65) rotate(-45)" text-anchor="end" class="b" font-size="16.6">wire jailed</text>
<line x1="1151.25" y1="780.75" x2="1151.25" y2="786.55" stroke="#000" stroke-width="2.2"/>
<text transform="translate(1157.45 801.65) rotate(-45)" text-anchor="end" class="b" font-size="16.6">wire retrieved</text>
<line x1="1248.75" y1="780.75" x2="1248.75" y2="786.55" stroke="#000" stroke-width="2.2"/>
<text transform="translate(1254.95 801.65) rotate(-45)" text-anchor="end" class="b" font-size="16.6">self-control</text>
<path d="M1053.75 592.2V570.9H1145V592.2" stroke="#000" stroke-width="3.3" fill="none"/>
<path d="M1159.25 592.2V570.9H1250.5V592.2" stroke="#000" stroke-width="3.3" fill="none"/>
<text transform="translate(1099.9 552.6) scale(0.94 1)" x="-12.99" y="0" class="r" font-size="18.3">NS</text>
<text transform="translate(1204 552.6) scale(0.94 1)" x="-12.99" y="0" class="r" font-size="18.3">NS</text>
<text transform="translate(921.65 526.3) scale(0.95 1)" x="0" y="0" class="b" font-size="30.2">G</text>
<text transform="translate(948.7 0) rotate(-90) scale(1 1.08)" x="-747.73" y="0" class="b" font-size="17.4">Eccentricity Index</text>
<rect x="1474.1" y="677" width="64.8" height="103.75" fill="#fff" stroke="#000" stroke-width="2.2"/>
<rect x="1571.6" y="677.5" width="64.8" height="103.25" fill="#fff" stroke="#000" stroke-width="2.2"/>
<rect x="1668.35" y="677.5" width="64.8" height="103.25" fill="#fff" stroke="#000" stroke-width="2.2"/>
<path d="M1490.5 642H1522.5M1506.5 642V712.5M1490.5 712.5H1522.5" stroke="#A00BE3" stroke-width="2.2" fill="none"/>
<path d="M1588 638.25H1620M1604 638.25V717M1588 717H1620" stroke="#F20F72" stroke-width="2.2" fill="none"/>
<path d="M1684.75 640H1716.75M1700.75 640V715M1684.75 715H1716.75" stroke="#00BE00" stroke-width="2.2" fill="none"/>
<g fill="#A00BE3"><circle cx="1506.5" cy="608" r="5.45"/><circle cx="1506.5" cy="625" r="5.45"/><circle cx="1506.5" cy="658.75" r="5.45"/><circle cx="1506.5" cy="680" r="5.45"/><circle cx="1479.5" cy="698" r="5.45"/><circle cx="1490.25" cy="700" r="5.45"/><circle cx="1522.75" cy="698.75" r="5.45"/><circle cx="1534" cy="693" r="5.45"/><circle cx="1501.5" cy="706.25" r="5.45"/><circle cx="1512" cy="705" r="5.45"/></g>
<g fill="#F20F72"><circle cx="1604" cy="608.75" r="5.45"/><circle cx="1595.75" cy="631.25" r="5.45"/><circle cx="1612" cy="627" r="5.45"/><circle cx="1595.75" cy="684.5" r="5.45"/><circle cx="1612" cy="690.5" r="5.45"/><circle cx="1579.5" cy="702" r="5.45"/><circle cx="1591.5" cy="706.25" r="5.45"/><circle cx="1628.25" cy="704.5" r="5.45"/><circle cx="1615.75" cy="708.75" r="5.45"/><circle cx="1604" cy="710.5" r="5.45"/></g>
<g fill="#00BE00"><circle cx="1692.75" cy="611.75" r="5.45"/><circle cx="1709" cy="618.75" r="5.45"/><circle cx="1701.5" cy="651.25" r="5.45"/><circle cx="1692.75" cy="680.5" r="5.45"/><circle cx="1709" cy="688" r="5.45"/><circle cx="1676.5" cy="701.25" r="5.45"/><circle cx="1689" cy="702.5" r="5.45"/><circle cx="1725.75" cy="702" r="5.45"/><circle cx="1713.25" cy="707.5" r="5.45"/><circle cx="1701.5" cy="712.5" r="5.45"/></g>
<path d="M1442 563.15V780.75H1767" stroke="#000" stroke-width="2.2" fill="none" stroke-linejoin="miter"/>
<line x1="1435.6" y1="564.25" x2="1442" y2="564.25" stroke="#000" stroke-width="2.2"/>
<text x="1411.32" y="569.67" class="b" font-size="16.0">1.6</text>
<line x1="1435.6" y1="618.38" x2="1442" y2="618.38" stroke="#000" stroke-width="2.2"/>
<text x="1410.84" y="623.79" class="b" font-size="16.0">1.4</text>
<line x1="1435.6" y1="672.5" x2="1442" y2="672.5" stroke="#000" stroke-width="2.2"/>
<text x="1411.4" y="678" class="b" font-size="16.0">1.2</text>
<line x1="1435.6" y1="726.62" x2="1442" y2="726.62" stroke="#000" stroke-width="2.2"/>
<text x="1411.4" y="732.04" class="b" font-size="16.0">1.0</text>
<line x1="1435.6" y1="780.75" x2="1442" y2="780.75" stroke="#000" stroke-width="2.2"/>
<text x="1411.24" y="786.17" class="b" font-size="16.0">0.8</text>
<line x1="1506.5" y1="780.75" x2="1506.5" y2="786.55" stroke="#000" stroke-width="2.2"/>
<text transform="translate(1512.7 801.65) rotate(-45)" text-anchor="end" class="b" font-size="16.6">wire jailed</text>
<line x1="1604" y1="780.75" x2="1604" y2="786.55" stroke="#000" stroke-width="2.2"/>
<text transform="translate(1610.2 801.65) rotate(-45)" text-anchor="end" class="b" font-size="16.6">wire retrieved</text>
<line x1="1700.75" y1="780.75" x2="1700.75" y2="786.55" stroke="#000" stroke-width="2.2"/>
<text transform="translate(1706.95 801.65) rotate(-45)" text-anchor="end" class="b" font-size="16.6">self-control</text>
<path d="M1506.25 592.2V570.9H1597.75V592.2" stroke="#000" stroke-width="3.3" fill="none"/>
<path d="M1611.5 592.2V570.9H1703.25V592.2" stroke="#000" stroke-width="3.3" fill="none"/>
<text transform="translate(1552.3 552.6) scale(0.94 1)" x="-12.99" y="0" class="r" font-size="18.3">NS</text>
<text transform="translate(1656.3 552.6) scale(0.94 1)" x="-12.99" y="0" class="r" font-size="18.3">NS</text>
<text transform="translate(1370.94 526.3) scale(0.95 1)" x="0" y="0" class="b" font-size="30.2">H</text>
<text transform="translate(1401.8 0) rotate(-90) scale(1 1.08)" x="-740.32" y="0" class="b" font-size="17.4">Symmetry index</text>
</svg>
</body></html>
